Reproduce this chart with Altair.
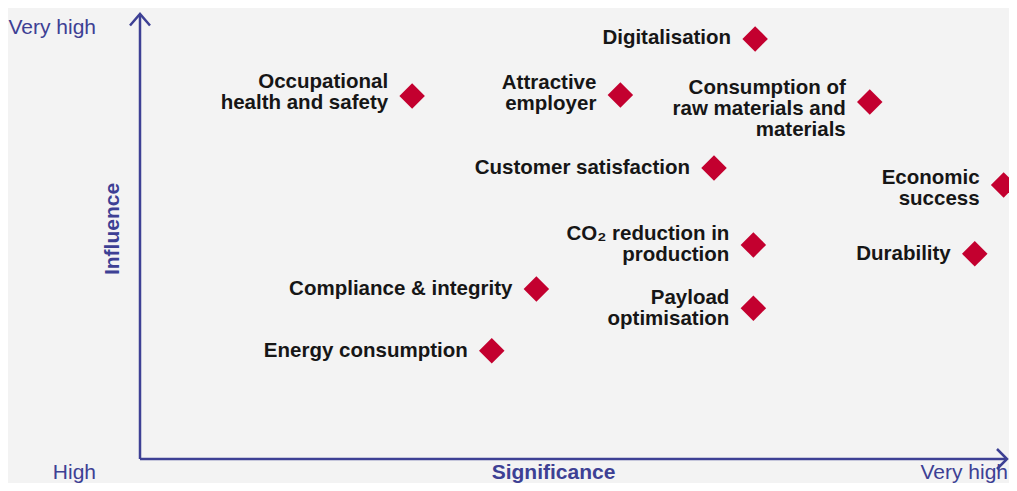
import altair as alt
import pandas as pd

# ---- data ----
labels = [
    "Digitalisation",
    "Occupational\nhealth and safety",
    "Attractive\nemployer",
    "Consumption of\nraw materials and\nmaterials",
    "Customer satisfaction",
    "Economic\nsuccess",
    "CO₂ reduction in\nproduction",
    "Durability",
    "Compliance & integrity",
    "Payload\noptimisation",
    "Energy consumption",
]
significance = [7.03, 3.11, 5.49, 8.34, 6.56, 9.87, 7.01, 9.54, 4.53, 7.01, 4.02]
influence = [9.44, 8.16, 8.18, 8.02, 6.54, 6.16, 4.81, 4.61, 3.82, 3.39, 2.43]

axis_low_label = "High"
axis_high_label = "Very high"
x_title = "Significance"
y_title = "Influence"

# ---- styling / layout ----
W, H = 1001, 475
BG = "#f3f3f3"
AXIS = "#3d4094"
RED = "#c3002f"
INK = "#161616"
FONT = "Liberation Sans"
LINE_H = 21
# small vertical nudges (px, positive = down) of some label blocks
label_nudge_px = {
    "Occupational\nhealth and safety": -3,
    "Attractive\nemployer": -1,
    "Consumption of\nraw materials and\nmaterials": 7,
    "Economic\nsuccess": 4,
    "Digitalisation": -1,
}

# scale domains: score 0 at the axis origin, 10 at the arrow tips
x0_px, x10_px = 132, 1007
y0_px, y10_px = 451, 6
xu = (x10_px - x0_px) / 10
yu = (y0_px - y10_px) / 10
x_dom = [-x0_px / xu, (W - x0_px) / xu]
y_dom = [-(H - y0_px) / yu, 10 + y10_px / yu]
x_end = (999 - x0_px) / xu  # where the x arrow ends inside the frame

xs = alt.Scale(domain=x_dom, nice=False, zero=False)
ys = alt.Scale(domain=y_dom, nice=False, zero=False)

def X(field="x"):
    return alt.X(f"{field}:Q", scale=xs, axis=None)

def Y(field="y"):
    return alt.Y(f"{field}:Q", scale=ys, axis=None)

points = pd.DataFrame({"label": labels, "x": significance, "y": influence})

# one row per text line, block centred on the marker
rows = []
for lab, sx, sy in zip(labels, significance, influence):
    lines = lab.split("\n")
    n = len(lines)
    nudge = label_nudge_px.get(lab, 0)
    for i, ln in enumerate(lines):
        off_px = (i - (n - 1) / 2) * LINE_H + nudge
        rows.append({"line": ln, "x": sx, "y": sy - off_px / yu})
lines_df = pd.DataFrame(rows)

axes_df = pd.DataFrame({"x": [0, 0], "y": [0, 0], "x2": [0, x_end], "y2": [10, 0]})
axes = alt.Chart(axes_df).mark_rule(color=AXIS, strokeWidth=2.5).encode(
    x=X(), y=Y(), x2="x2:Q", y2="y2:Q"
)

up_arrow = alt.Chart(pd.DataFrame({"x": [0], "y": [10]})).mark_point(
    shape="M-1,1.15L0,0L1,1.15", filled=False, size=400, strokeWidth=2.5,
    color=AXIS, opacity=1
).encode(x=X(), y=Y())

right_arrow = alt.Chart(pd.DataFrame({"x": [x_end], "y": [0]})).mark_point(
    shape="M-1,-1L0,0L-1,1", filled=False, size=400, strokeWidth=2.5,
    color=AXIS, opacity=1
).encode(x=X(), y=Y())

diamonds = alt.Chart(points).mark_point(
    shape="diamond", filled=True, size=650, color=RED, opacity=1, strokeWidth=0
).encode(x=X(), y=Y())

texts = alt.Chart(lines_df).mark_text(
    align="right", baseline="middle", dx=-24, font=FONT, fontSize=20.5,
    fontWeight="bold", color=INK
).encode(x=X(), y=Y(), text="line:N")

# axis annotations (positions in score units)
bottom_y = -14 / yu
ann_right = pd.DataFrame({
    "t": [axis_high_label, axis_low_label, axis_high_label],
    "x": [-44 / xu, -44 / xu, (1000 - x0_px) / xu],
    "y": [(y0_px - 20) / yu, bottom_y, bottom_y],
})
ann_r = alt.Chart(ann_right).mark_text(
    align="right", baseline="middle", font=FONT, fontSize=21, color=AXIS
).encode(x=X(), y=Y(), text="t:N")

ann_x = alt.Chart(pd.DataFrame({"t": [x_title], "x": [(553.5 - 140) / xu], "y": [bottom_y]})).mark_text(
    align="center", baseline="middle", font=FONT, fontSize=21, fontWeight="bold", color=AXIS
).encode(x=X(), y=Y(), text="t:N")

ann_y = alt.Chart(pd.DataFrame({"t": [y_title], "x": [-27 / xu], "y": [(459 - 229) / yu]})).mark_text(
    align="center", baseline="middle", angle=270, font=FONT, fontSize=21, fontWeight="bold", color=AXIS
).encode(x=X(), y=Y(), text="t:N")

chart = alt.layer(axes, up_arrow, right_arrow, diamonds, texts, ann_r, ann_x, ann_y).properties(
    width=W, height=H, padding=0, background=BG,
    autosize=alt.AutoSizeParams(type="none")
).configure_view(stroke=None)

chart.save("out.html", embed_options={"renderer": "svg", "actions": False})
